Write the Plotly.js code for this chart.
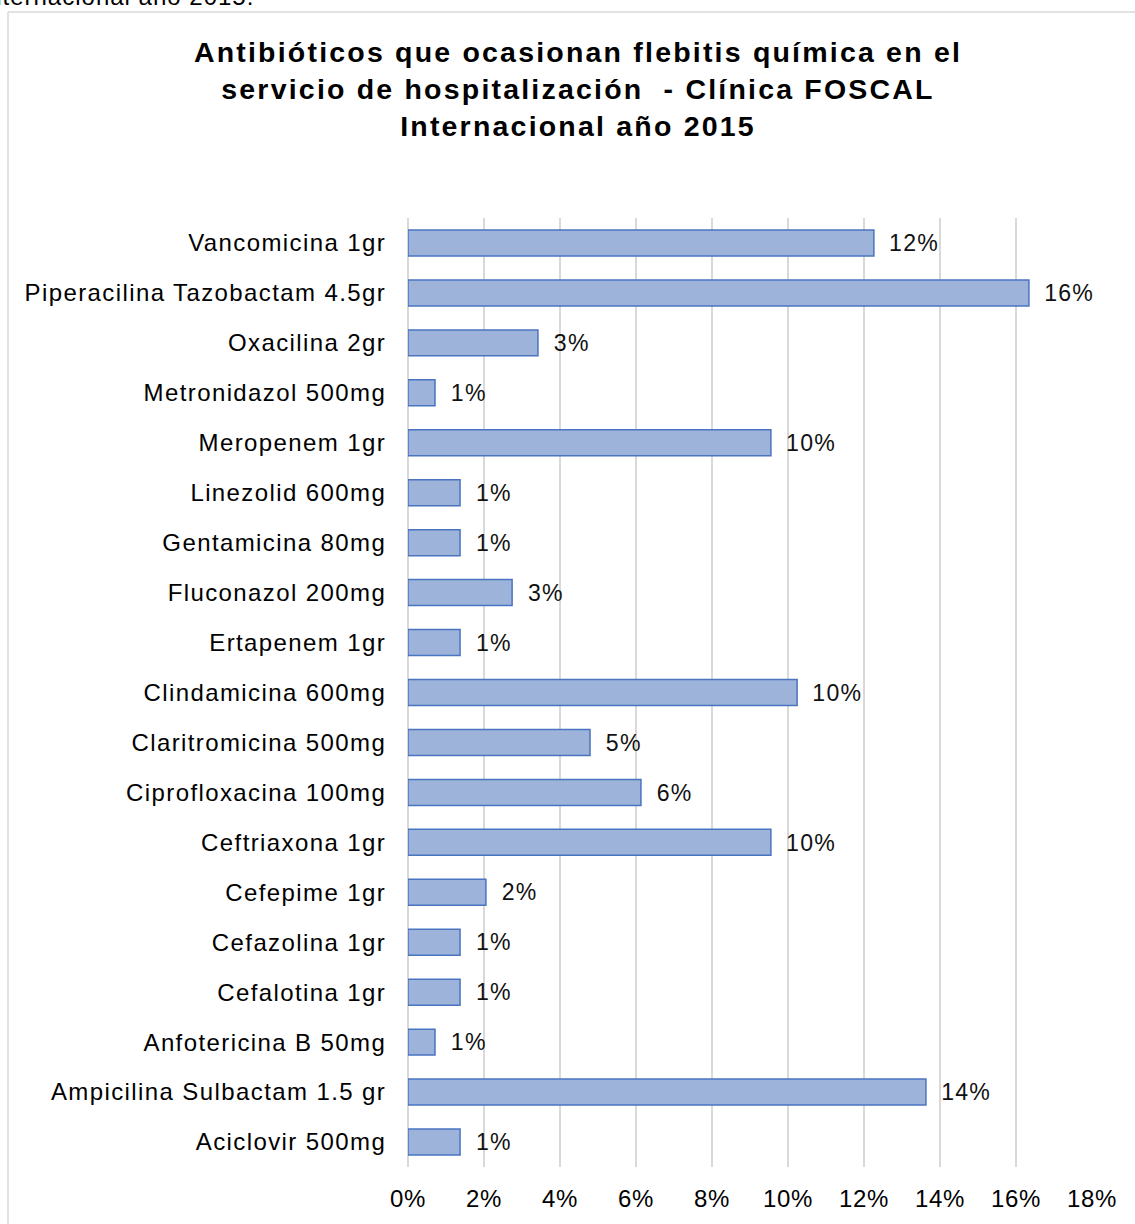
<!DOCTYPE html>
<html>
<head>
<meta charset="utf-8">
<script src="https://cdn.plot.ly/plotly-3.0.1.min.js"></script>
<style>
html,body{margin:0;padding:0;background:#fff;}
#chart{width:1135px;height:1224px;}
#chart .ytick text{letter-spacing:1.4px;}
#chart .xtick text{letter-spacing:0.7px;}
#chart text.bartext{letter-spacing:1.3px;}
#chart text.gtitle{letter-spacing:2.2px;}
#chart text.annotation-text{letter-spacing:1px;}
</style>
</head>
<body>
<div id="chart"></div>
<script>
// Categories, listed top to bottom as shown
const categories = [
  "Vancomicina 1gr",
  "Piperacilina Tazobactam 4.5gr",
  "Oxacilina 2gr",
  "Metronidazol 500mg",
  "Meropenem 1gr",
  "Linezolid 600mg",
  "Gentamicina 80mg",
  "Fluconazol 200mg",
  "Ertapenem 1gr",
  "Clindamicina 600mg",
  "Claritromicina 500mg",
  "Ciprofloxacina 100mg",
  "Ceftriaxona 1gr",
  "Cefepime 1gr",
  "Cefazolina 1gr",
  "Cefalotina 1gr",
  "Anfotericina B 50mg",
  "Ampicilina Sulbactam 1.5 gr",
  "Aciclovir 500mg"
];
// Share of cases (fraction)
const shares = [
  0.1226, 0.1634, 0.0342, 0.0071, 0.0955, 0.0137, 0.0137, 0.0274, 0.0137,
  0.1024, 0.0479, 0.0613, 0.0955, 0.0205, 0.0137, 0.0137, 0.0071, 0.1363, 0.0137
];
const xTickVals = [0, 0.02, 0.04, 0.06, 0.08, 0.10, 0.12, 0.14, 0.16, 0.18];
const titleText = "Antibióticos que ocasionan flebitis química en el<br>servicio de hospitalización  - Clínica FOSCAL<br>Internacional año 2015";
const cutText = "Internacional año 2015.";

const FONT = "Arial, 'Liberation Sans', sans-serif";

const L = 408, R = 1092, T = 218, B = 1167, W = 1135, H = 1224;
const px = v => (v - L) / (R - L);
const py = v => (B - v) / (B - T);

const trace = {
  type: "bar",
  orientation: "h",
  y: categories,
  x: shares,
  width: 0.52,
  marker: {
    color: "#9db3da",
    line: {color: "#4a74c0", width: 1.5}
  },
  texttemplate: "\u00a0\u00a0%{x:.0%}",
  textposition: "outside",
  cliponaxis: false,
  textfont: {family: FONT, size: 24, color: "#111"},
  hoverinfo: "none"
};

const layout = {
  width: W, height: H,
  margin: {l: L, r: W - R, t: T, b: H - B, pad: 0},
  paper_bgcolor: "#ffffff",
  plot_bgcolor: "#ffffff",
  showlegend: false,
  font: {family: FONT, size: 24, color: "#000"},
  title: {
    text: "<b>" + titleText + "</b>",
    font: {family: FONT, size: 28.5, color: "#000"},
    xref: "container", yref: "container",
    x: 578 / W, xanchor: "center",
    y: 1 - 62 / H, yanchor: "top"
  },
  xaxis: {
    range: [0, 0.18],
    tickvals: xTickVals,
    tickformat: ".0%",
    showgrid: true,
    gridcolor: "#d9d9d9",
    gridwidth: 1.5,
    zeroline: true,
    zerolinecolor: "#d9d9d9",
    zerolinewidth: 1.5,
    showline: false,
    ticks: "outside",
    ticklen: 10,
    tickcolor: "rgba(0,0,0,0)",
    tickfont: {family: FONT, size: 24, color: "#000"},
    fixedrange: true
  },
  yaxis: {
    type: "category",
    categoryorder: "array",
    categoryarray: categories,
    autorange: "reversed",
    showgrid: false,
    showline: false,
    ticks: "outside",
    ticklen: 16,
    tickcolor: "rgba(0,0,0,0)",
    tickfont: {family: FONT, size: 24, color: "#000"},
    fixedrange: true
  },
  shapes: [
    {type: "line", xref: "paper", yref: "paper",
     x0: px(8), x1: px(W + 5), y0: py(12), y1: py(12),
     line: {color: "#d9d9d9", width: 1.5}},
    {type: "line", xref: "paper", yref: "paper",
     x0: px(8), x1: px(8), y0: py(12), y1: py(H + 5),
     line: {color: "#d9d9d9", width: 1.5}}
  ],
  annotations: [
    {text: cutText, xref: "paper", yref: "paper",
     x: px(245), xanchor: "right",
     y: py(12), yanchor: "bottom",
     showarrow: false,
     font: {family: FONT, size: 24, color: "#000"}}
  ]
};

Plotly.newPlot("chart", [trace], layout, {displayModeBar: false, staticPlot: true});
</script>
</body>
</html>
